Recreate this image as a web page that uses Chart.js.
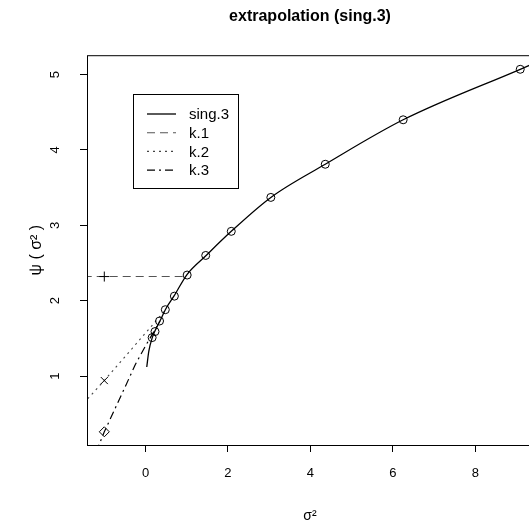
<!DOCTYPE html>
<html>
<head>
<meta charset="utf-8">
<script src="https://cdn.jsdelivr.net/npm/chart.js@4.4.1/dist/chart.umd.min.js"></script>
<style>
  html, body { margin: 0; padding: 0; background: #fff; overflow: hidden; }
  #wrap { width: 545px; height: 527px; }
</style>
</head>
<body>
<div id="wrap"><canvas id="chart" width="545" height="527"></canvas></div>
<script>
// DATA
const curveX = [0.03, 0.08, 0.17, 0.23, 0.35, 0.49, 0.70, 1.01, 1.47, 2.08, 3.04, 4.36, 6.25, 9.09, 9.6];
const curveY = [1.12, 1.33, 1.52, 1.60, 1.73, 1.89, 2.07, 2.35, 2.60, 2.92, 3.37, 3.81, 4.40, 5.07, 5.19];

const obsX = [0.16, 0.23, 0.34, 0.48, 0.70, 1.01, 1.46, 2.08, 3.04, 4.36, 6.25, 9.09];
const obsY = [1.51, 1.59, 1.73, 1.88, 2.06, 2.34, 2.60, 2.92, 3.37, 3.81, 4.40, 5.07];

const k1X = [-1.5, -1, 1.0];
const k1Y = [2.32, 2.32, 2.32];
const k2X = [-1.5, -1, 0.49];
const k2Y = [0.64, 0.94, 1.88];
const k3X = [-1.2, -1, -0.5, -0.25, 0, 0.17, 0.35];
const k3Y = [-0.01, 0.26, 0.85, 1.15, 1.40, 1.56, 1.73];

const markerX = -1;
const xTicks = [0, 2, 4, 6, 8];
const yTicks = [1, 2, 3, 4, 5];

const FONT = '"Liberation Sans", Arial, sans-serif';

function pts(xs, ys) {
    return xs.map((x, i) => ({ x: x, y: ys[i] }));
}
function markerRadius(xs, r) {
    return xs.map(x => x === markerX ? r : 0);
}

// frame + legend box, R style
const frame = {
    id: 'frame',
    afterDraw(chart) {
        const c = chart.ctx, a = chart.chartArea;
        c.save();
        c.strokeStyle = '#000';
        c.lineWidth = 1;
        c.strokeRect(a.left + 0.5, a.top + 0.5, a.right - a.left, a.bottom - a.top);

        // legend
        const bx = 133, by = 94, bw = 105, bh = 94;
        c.strokeRect(bx + 0.5, by + 0.5, bw, bh);
        c.font = '15px ' + FONT;
        c.textBaseline = 'middle';
        c.fillStyle = '#000';
        let y = 114;
        chart.data.datasets.forEach(ds => {
            if (ds.noLegend) return;
            c.beginPath();
            c.setLineDash(ds.borderDash || []);
            c.strokeStyle = ds.borderColor;
            c.lineWidth = ds.borderWidth;
            c.moveTo(147, y);
            c.lineTo(176, y);
            c.stroke();
            c.setLineDash([]);
            c.fillText(ds.label, 189, y + 1);
            y += 18.7;
        });
        c.restore();
    }
};

window.onload = function () {

    new Chart(document.getElementById('chart'), {
        type: 'scatter',
        data: {
            datasets: [{
                label: 'sing.3',
                data: pts(curveX, curveY),
                showLine: true,
                pointRadius: 0,
                borderColor: '#000',
                borderWidth: 1.3,
                cubicInterpolationMode: 'monotone'
            }, {
                label: 'obs',
                noLegend: true,
                data: pts(obsX, obsY),
                pointStyle: 'circle',
                pointRadius: 4,
                pointBorderColor: '#000',
                pointBackgroundColor: 'rgba(0,0,0,0)',
                pointBorderWidth: 1
            }, {
                label: 'k.1',
                data: pts(k1X, k1Y),
                showLine: true,
                borderColor: '#555',
                borderWidth: 1.1,
                borderDash: [8, 5],
                pointStyle: 'cross',
                pointRadius: markerRadius(k1X, 5),
                pointBorderColor: '#000',
                pointBorderWidth: 1
            }, {
                label: 'k.2',
                data: pts(k2X, k2Y),
                showLine: true,
                borderColor: '#444',
                borderWidth: 1.1,
                borderDash: [2, 4],
                pointStyle: 'crossRot',
                pointRadius: markerRadius(k2X, 5),
                pointBorderColor: '#000',
                pointBorderWidth: 1
            }, {
                label: 'k.3',
                data: pts(k3X, k3Y),
                showLine: true,
                borderColor: '#000',
                borderWidth: 1.2,
                borderDash: [8, 4, 2, 4],
                pointStyle: 'rectRot',
                pointRadius: markerRadius(k3X, 5),
                pointBorderColor: '#000',
                pointBackgroundColor: 'rgba(0,0,0,0)',
                pointBorderWidth: 1
            }]
        },
        options: {
            responsive: false,
            animation: false,
            layout: { padding: { right: 12 } },
            plugins: {
                legend: { display: false },
                tooltip: { enabled: false },
                title: {
                    display: true,
                    text: 'extrapolation (sing.3)',
                    fullSize: false,
                    color: '#000',
                    font: { family: FONT, size: 16, weight: 'bold' },
                    padding: { top: 7, bottom: 29 }
                }
            },
            scales: {
                x: {
                    type: 'linear',
                    min: -1.42,
                    max: 9.4,
                    afterBuildTicks: s => { s.ticks = xTicks.map(v => ({ value: v })); },
                    afterFit: s => { s.height = 82; },
                    border: { display: false },
                    grid: { drawOnChartArea: false, drawTicks: true, tickLength: 7, color: '#000' },
                    ticks: {
                        color: '#000',
                        padding: 14,
                        maxRotation: 0,
                        font: { family: FONT, size: 13 }
                    },
                    title: {
                        display: true,
                        text: 'σ²',
                        color: '#000',
                        font: { family: FONT, size: 14 },
                        padding: { top: 0, bottom: 2 }
                    }
                },
                y: {
                    type: 'linear',
                    min: 0.085,
                    max: 5.257,
                    afterBuildTicks: s => { s.ticks = yTicks.map(v => ({ value: v })); },
                    afterFit: s => { s.width = 87; },
                    border: { display: false },
                    grid: { drawOnChartArea: false, drawTicks: true, tickLength: 7, color: '#000' },
                    ticks: {
                        color: '#000',
                        padding: 21,
                        minRotation: 90,
                        maxRotation: 90,
                        crossAlign: 'center',
                        font: { family: FONT, size: 13 }
                    },
                    title: {
                        display: true,
                        text: 'ψ ( σ² )',
                        color: '#000',
                        font: { family: FONT, size: 16 },
                        padding: { top: 27, bottom: 0 }
                    }
                }
            }
        },
        plugins: [frame]
    });

};
</script>
</body>
</html>
